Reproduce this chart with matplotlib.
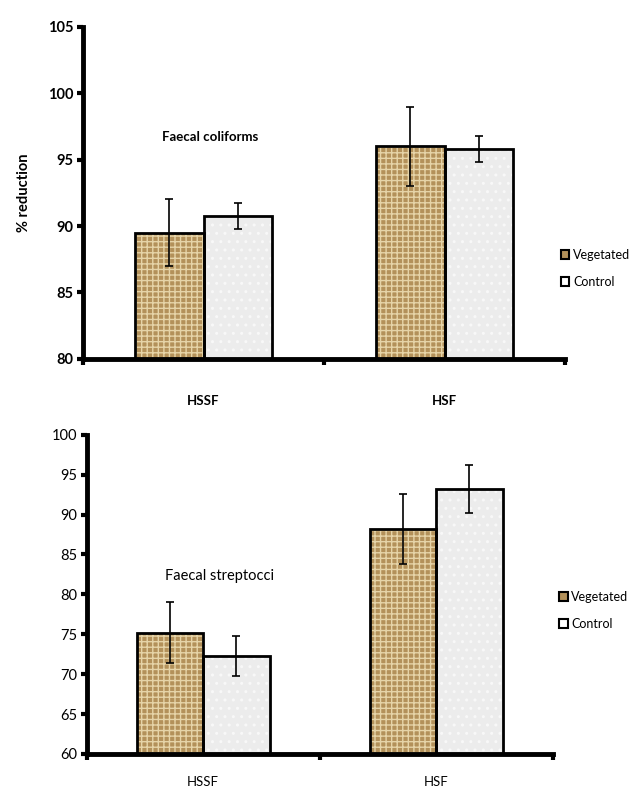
import matplotlib
matplotlib.use("Agg")
import matplotlib.pyplot as plt
from matplotlib.patches import Patch
import numpy as np

plt.rcParams['font.family'] = ['Lato', 'DejaVu Sans']

systems = ['HSSF', 'HSF']

# Faecal coliforms (% reduction)
coli_veg = [89.5, 96.0]
coli_veg_err = [2.5, 3.0]
coli_ctrl = [90.75, 95.8]
coli_ctrl_err = [1.0, 1.0]

# Faecal streptocci (% reduction)
strep_veg = [75.2, 88.2]
strep_veg_err = [3.8, 4.4]
strep_ctrl = [72.3, 93.2]
strep_ctrl_err = [2.5, 3.05]

veg_face = '#b3915a'
veg_hatch = '#e6d4a8'
ctrl_face = '#ececec'
ctrl_hatch = '#f8f8f8'


def draw_panel(ax, veg, veg_err, ctrl, ctrl_err, ylim, title, title_pos, bold, leg_pos, xpad):
    x = np.arange(len(systems))
    w = 0.285
    # textured fill first, then outline
    ax.bar(x - w / 2, veg, w, color=veg_face, edgecolor=veg_hatch, hatch='+++', linewidth=0, zorder=2)
    ax.bar(x + w / 2, ctrl, w, color=ctrl_face, edgecolor=ctrl_hatch, hatch='..', linewidth=0, zorder=2)
    ax.bar(x - w / 2, veg, w, fill=False, edgecolor='black', linewidth=2, zorder=3)
    ax.bar(x + w / 2, ctrl, w, fill=False, edgecolor='black', linewidth=2, zorder=3)
    ax.errorbar(x - w / 2, veg, yerr=veg_err, fmt='none', ecolor='black', elinewidth=1.2, capsize=3, capthick=1.2, zorder=4)
    ax.errorbar(x + w / 2, ctrl, yerr=ctrl_err, fmt='none', ecolor='black', elinewidth=1.2, capsize=3, capthick=1.2, zorder=4)

    ax.set_xlim(-0.5, 1.5)
    ax.set_ylim(*ylim)
    ax.set_yticks(np.arange(ylim[0], ylim[1] + 1, 5))
    ax.set_xticks(x)
    ax.set_xticklabels(systems, fontsize=9.5, fontweight='bold' if bold else 'normal')
    ax.set_xticks([-0.5, 0.5, 1.5], minor=True)
    ax.tick_params(axis='x', which='major', length=0, pad=xpad)
    ax.tick_params(axis='x', which='minor', length=4, width=3, direction='out')
    ax.tick_params(axis='y', length=4, width=3, direction='out', labelsize=10.5, pad=3)
    if bold:
        for lab in ax.get_yticklabels():
            lab.set_fontweight('bold')
    for s in ['top', 'right']:
        ax.spines[s].set_visible(False)
    for s in ['left', 'bottom']:
        ax.spines[s].set_linewidth(3.5)
    ax.spines['bottom'].set_zorder(5)

    ax.text(title_pos[0], title_pos[1], title, transform=ax.transAxes, ha='center', va='center',
            fontsize=9.5 if bold else 10.5, fontweight='bold' if bold else 'normal')

    handles = [Patch(facecolor=veg_face, edgecolor='black', linewidth=1.5, label='Vegetated'),
               Patch(facecolor='white', edgecolor='black', linewidth=1.5, label='Control')]
    fig.legend(handles=handles, loc='center left', bbox_to_anchor=leg_pos, frameon=False,
               fontsize=9, handlelength=0.7, handleheight=0.7, handletextpad=0.3, labelspacing=1.2)


fig = plt.figure(figsize=(6.33, 7.92), dpi=100)

ax1 = fig.add_axes([0.131, 0.547, 0.762, 0.419])
draw_panel(ax1, coli_veg, coli_veg_err, coli_ctrl, coli_ctrl_err, (80, 105),
           'Faecal coliforms', (0.263, 0.669), True, (0.868, 0.661), 26)
ax1.set_ylabel('% reduction', fontsize=10.5, fontweight='bold', labelpad=12)

ax2 = fig.add_axes([0.137, 0.048, 0.736, 0.403])
draw_panel(ax2, strep_veg, strep_veg_err, strep_ctrl, strep_ctrl_err, (60, 100),
           'Faecal streptocci', (0.285, 0.558), False, (0.865, 0.229), 16)

fig.savefig('out.png', dpi=100)
